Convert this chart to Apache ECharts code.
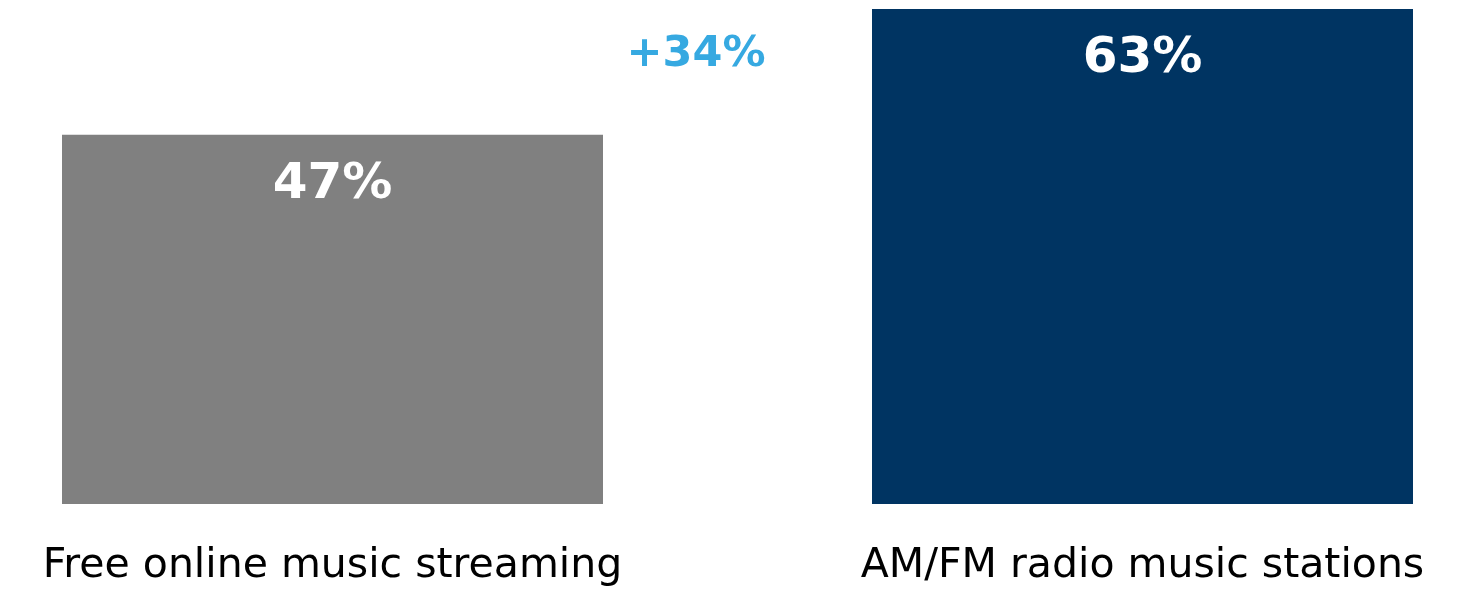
<!DOCTYPE html>
<html>
<head>
<meta charset="utf-8">
<script src="https://cdn.jsdelivr.net/npm/echarts@6/dist/echarts.min.js"></script>
<style>
html,body{margin:0;padding:0;background:#fff;}
#chart{width:1464px;height:589px;}
</style>
</head>
<body>
<div id="chart"></div>
<script>
const categories = ["Free online music streaming", "AM/FM radio music stations"];
const values = [47, 63];
const barColors = ["#808080", "#003462"];
const changeLabel = "+34%";

const chart = echarts.init(document.getElementById('chart'));
chart.setOption({
  animation: false,
  grid: { left: 332.5, right: 321.5, top: 9, bottom: 85, containLabel: false },
  xAxis: {
    type: 'category',
    data: categories,
    boundaryGap: false,
    axisLine: { show: false },
    axisTick: { show: false },
    splitLine: { show: false },
    axisLabel: {
      interval: 0,
      margin: 42,
      color: '#000',
      fontFamily: 'DejaVu Sans',
      fontSize: 41,
      fontWeight: 'normal'
    }
  },
  yAxis: {
    type: 'value',
    min: 0,
    max: 63,
    show: false,
    splitLine: { show: false }
  },
  series: [{
    type: 'bar',
    barWidth: 541,
    clip: false,
    data: values.map((v, i) => ({ value: v, itemStyle: { color: barColors[i] } })),
    label: {
      show: true,
      position: 'insideTop',
      distance: 25,
      formatter: '{c}%',
      color: '#fff',
      fontFamily: 'DejaVu Sans',
      fontWeight: 'bold',
      fontSize: 50
    }
  }],
  graphic: [{
    type: 'text',
    x: 696,
    y: 55,
    style: {
      text: changeLabel,
      fill: '#36A9E1',
      font: 'bold 43px "DejaVu Sans"',
      textAlign: 'center',
      textVerticalAlign: 'middle'
    }
  }]
});
</script>
</body>
</html>
